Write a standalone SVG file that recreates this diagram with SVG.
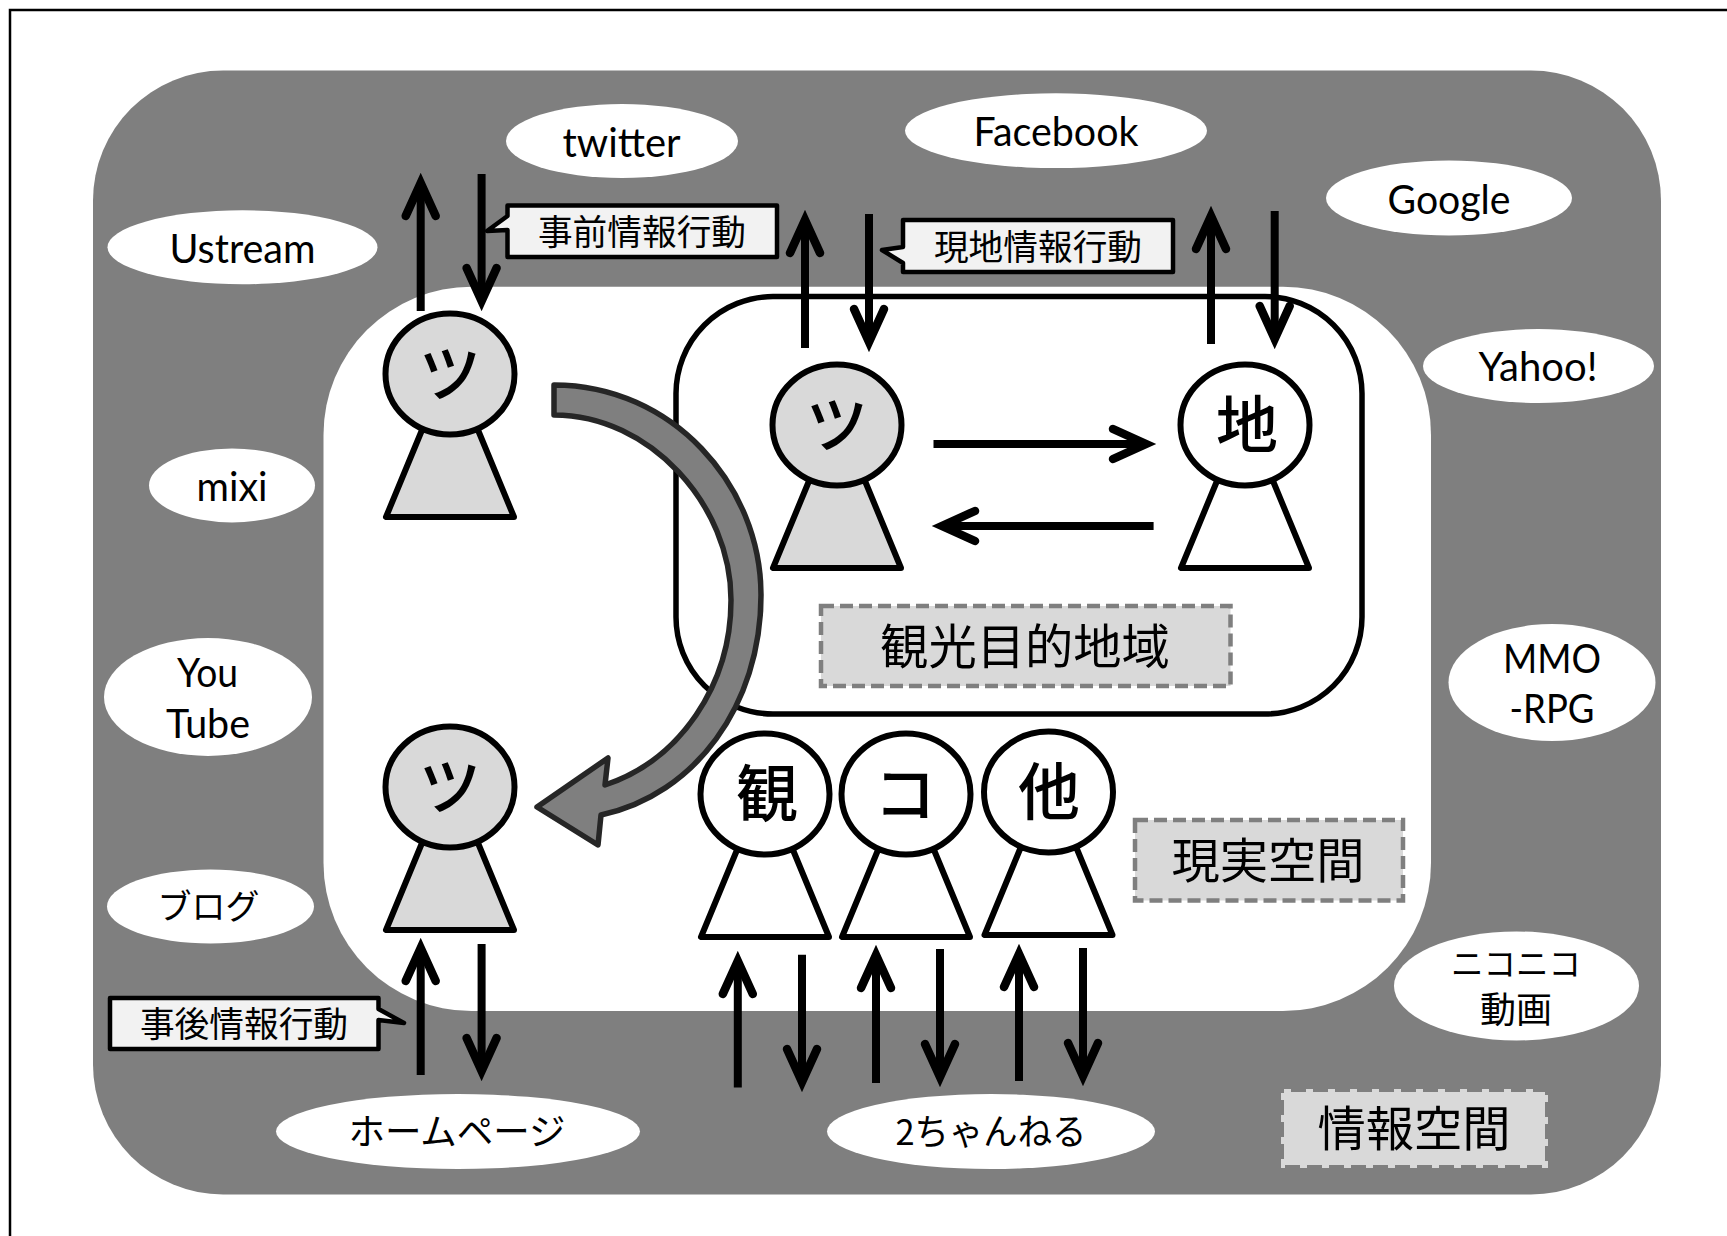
<svg xmlns="http://www.w3.org/2000/svg" width="1727" height="1236" viewBox="0 0 1727 1236">
<style>
text{font-family:"Noto Sans CJK JP","Noto Sans",sans-serif;fill:#000;text-anchor:middle}
.l{font-family:"Lato","Noto Sans CJK JP",sans-serif;font-size:40px}
.c{font-size:34.7px}
.b{font-size:48.3px}
.h{font-size:62px;font-weight:500}
.e{fill:#fff}
.p{stroke:#000;stroke-width:6;stroke-linejoin:round}
.t{fill:#d9d9d9}
.w{fill:#fff}
.a{fill:none;stroke:#000;stroke-width:8;stroke-linecap:butt}
.v{fill:none;stroke:#000;stroke-width:8.5;stroke-linecap:round;stroke-linejoin:miter;stroke-miterlimit:10}
.k{fill:#f2f2f2;stroke:#000;stroke-width:4.5;stroke-linejoin:round}
.d{fill:#d9d9d9;stroke:#7f7f7f;stroke-width:4.5;stroke-dasharray:13 6}
</style>
<defs>
<g id="up"><path class="v" d="M-15,33L0,0L15,33"/></g>
<g id="pb"><path class="p" d="M-28,56L-64,143H64L28,56Z"/></g>
</defs>
<path fill="none" stroke="#000" stroke-width="2.5" d="M10,1236V10H1727"/>
<rect id="info-space" x="93" y="70.5" width="1568" height="1124" rx="130" ry="130" fill="#7f7f7f"/>
<rect id="real-space" x="323.5" y="286.7" width="1107.5" height="724.3" rx="148" ry="148" fill="#fff"/>
<rect id="destination" x="676" y="296.6" width="686" height="417.4" rx="97" ry="97" fill="#fff" stroke="#000" stroke-width="5.5"/>
<g id="n-twitter"><ellipse class="e" cx="622" cy="141" rx="116" ry="37"/><text class="l" x="621.5" y="157" textLength="118" lengthAdjust="spacingAndGlyphs">twitter</text></g>
<g id="n-ustream"><ellipse class="e" cx="242.5" cy="247.3" rx="135" ry="37"/><text class="l" x="242.5" y="262.5" textLength="146" lengthAdjust="spacingAndGlyphs">Ustream</text></g>
<g id="n-mixi"><ellipse class="e" cx="232" cy="485.4" rx="83" ry="37"/><text class="l" x="232" y="501" textLength="71" lengthAdjust="spacingAndGlyphs">mixi</text></g>
<g id="n-facebook"><ellipse class="e" cx="1056" cy="130.7" rx="151" ry="37.4"/><text class="l" x="1056" y="145.5" textLength="165" lengthAdjust="spacingAndGlyphs">Facebook</text></g>
<g id="n-google"><ellipse class="e" cx="1449" cy="198" rx="123" ry="37.5"/><text class="l" x="1449" y="213.5" textLength="123" lengthAdjust="spacingAndGlyphs">Google</text></g>
<g id="n-yahoo"><ellipse class="e" cx="1538.5" cy="366" rx="115.5" ry="37"/><text class="l" x="1538" y="380.5" textLength="119" lengthAdjust="spacingAndGlyphs">Yahoo!</text></g>
<g id="n-youtube"><ellipse class="e" cx="208" cy="697" rx="104" ry="59"/><text class="l" x="207.5" y="686.5" textLength="61" lengthAdjust="spacingAndGlyphs">You</text><text class="l" x="208" y="738" textLength="84" lengthAdjust="spacingAndGlyphs">Tube</text></g>
<g id="n-blog"><ellipse class="e" cx="210.5" cy="906.5" rx="103.5" ry="37"/><text x="208.5" y="919" style="font-size:34px">ブログ</text></g>
<g id="n-homepage"><ellipse class="e" cx="458" cy="1131.5" rx="182" ry="37.5"/><text x="457" y="1145" style="font-size:36.5px">ホームページ</text></g>
<g id="n-2ch"><ellipse class="e" cx="991" cy="1131.5" rx="164" ry="37.5"/><text x="991" y="1145" style="font-size:36px" textLength="191" lengthAdjust="spacingAndGlyphs">2ちゃんねる</text></g>
<g id="n-mmo"><ellipse class="e" cx="1552" cy="682.5" rx="103.5" ry="58.5"/><text class="l" x="1552" y="672.5" textLength="98" lengthAdjust="spacingAndGlyphs">MMO</text><text class="l" x="1552" y="723" textLength="85" lengthAdjust="spacingAndGlyphs">-RPG</text></g>
<g id="n-nico"><ellipse class="e" cx="1516.5" cy="986" rx="122.5" ry="54.5"/><text x="1516" y="976" style="font-size:32.5px">ニコニコ</text><text x="1516" y="1023" style="font-size:36px">動画</text></g>
<g id="p-tourist1"><use href="#pb" x="450" y="374" class="t"/><ellipse class="p t" cx="450" cy="374" rx="64.5" ry="60.5"/><text class="h" x="450" y="397">ツ</text></g>
<g id="p-tourist2"><use href="#pb" x="837" y="425" class="t"/><ellipse class="p t" cx="837" cy="425" rx="64.5" ry="60.5"/><text class="h" x="837" y="448">ツ</text></g>
<g id="p-local"><use href="#pb" x="1245" y="425" class="w"/><ellipse class="p w" cx="1245" cy="425" rx="64.5" ry="60.5"/><text class="h" x="1247" y="448">地</text></g>
<g id="p-tourist3"><use href="#pb" x="450" y="787" class="t"/><ellipse class="p t" cx="450" cy="787" rx="64.5" ry="60.5"/><text class="h" x="450" y="810">ツ</text></g>
<g id="p-kan"><use href="#pb" x="765" y="794" class="w"/><ellipse class="p w" cx="765" cy="794" rx="64.5" ry="60.5"/><text class="h" x="767" y="817">観</text></g>
<g id="p-ko"><use href="#pb" x="906" y="794" class="w"/><ellipse class="p w" cx="906" cy="794" rx="64.5" ry="60.5"/><text class="h" x="905" y="817">コ</text></g>
<g id="p-ta"><use href="#pb" x="1048.5" y="792" class="w"/><ellipse class="p w" cx="1048.5" cy="792" rx="64.5" ry="60.5"/><text class="h" x="1049" y="815">他</text></g>
<g id="connectors">
<path d="M554,385C672,385 761,485 761,595C761,705 695,795 601,815L598,845L537,807L608,758L605,785C680,760 731,685 731,600C731,505 650,415 554,415Z" fill="#7f7f7f" stroke="#262626" stroke-width="5.5" stroke-linejoin="round"/>
<path class="a" d="M420.7,311V183M481.6,174V301M805,348V220M869,214V342M1211,344V216M1274.7,211V339M933.5,444H1145M1153.6,526H943M420.7,1075V948M481.6,944V1071M737.8,1087.6V961M802,954.8V1082M876,1083V955M940,949V1077M1019,1081V954M1083,948V1076"/>
<use href="#up" x="420.7" y="183"/><use href="#up" x="805" y="220"/><use href="#up" x="1211" y="216"/><use href="#up" x="420.7" y="948"/><use href="#up" x="737.8" y="961"/><use href="#up" x="876" y="955"/><use href="#up" x="1019" y="954"/>
<use href="#up" transform="translate(481.6 301) rotate(180)"/><use href="#up" transform="translate(869 342) rotate(180)"/><use href="#up" transform="translate(1274.7 339) rotate(180)"/><use href="#up" transform="translate(481.6 1071) rotate(180)"/><use href="#up" transform="translate(802 1082) rotate(180)"/><use href="#up" transform="translate(940 1077) rotate(180)"/><use href="#up" transform="translate(1083 1076) rotate(180)"/>
<use href="#up" transform="translate(1146 444) rotate(90)"/><use href="#up" transform="translate(942 526) rotate(-90)"/>
</g>
<g id="c-before"><path class="k" d="M507.5,205.6H777V257H507.5V230L487,231L507.5,216Z"/><text class="c" x="642" y="244.5">事前情報行動</text></g>
<g id="c-onsite"><path class="k" d="M903,220H1173V272H903V263L882,250L903,247Z"/><text class="c" x="1038" y="259.5">現地情報行動</text></g>
<g id="c-after"><path class="k" d="M110,998H378.5V1009L404,1023L378.5,1020V1049H110Z"/><text class="c" x="244" y="1036.5">事後情報行動</text></g>
<g id="l-dest"><rect class="d" x="821" y="606" width="409.5" height="80"/><text class="b" x="1025" y="664">観光目的地域</text></g>
<g id="l-real"><rect class="d" x="1135" y="820" width="268" height="80.5"/><text class="b" x="1268" y="878">現実空間</text></g>
<g id="l-info"><rect x="1284" y="1092" width="261" height="73" fill="#d9d9d9" stroke="#d9d9d9" stroke-width="6" stroke-dasharray="7 15"/><text class="b" x="1414" y="1146">情報空間</text></g>
</svg>
